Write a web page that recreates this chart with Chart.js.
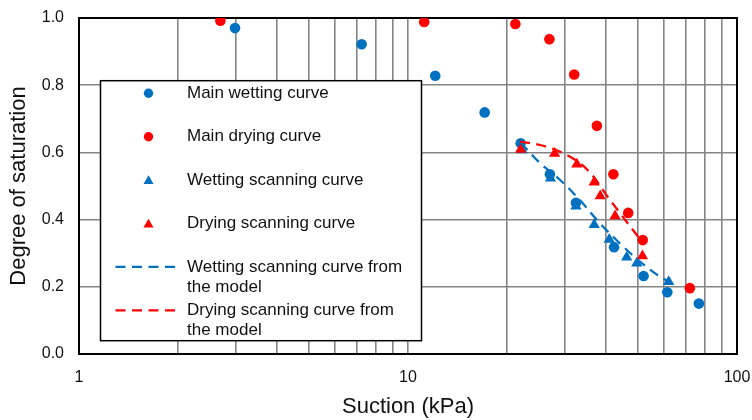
<!DOCTYPE html>
<html>
<head>
<meta charset="utf-8">
<script src="https://cdn.jsdelivr.net/npm/chart.js@4.4.1/dist/chart.umd.min.js"></script>
<style>
  html, body { margin: 0; padding: 0; background: #fff; }
  canvas { display: block; }
</style>
</head>
<body>
<canvas id="chart" width="752" height="420"></canvas>
<script>
// Suction (kPa) and degree of saturation for each measured series
const mainWettingSuction = [2.98, 7.23, 12.1, 17.1, 22.0, 27.0, 32.4, 42.3, 52.0, 61.4, 76.6];
const mainWettingSr      = [0.970, 0.922, 0.828, 0.719, 0.627, 0.535, 0.450, 0.318, 0.232, 0.184, 0.150];

const mainDryingSuction = [2.69, 11.2, 21.2, 26.9, 32.0, 37.5, 42.1, 46.7, 51.7, 71.9];
const mainDryingSr      = [0.992, 0.988, 0.982, 0.937, 0.832, 0.679, 0.535, 0.420, 0.339, 0.196];

const wettingScanSuction = [22.2, 27.1, 32.4, 36.8, 40.9, 46.2, 49.6, 62.0];
const wettingScanSr      = [0.607, 0.523, 0.440, 0.385, 0.341, 0.288, 0.270, 0.215];

const dryingScanSuction = [22.0, 27.9, 32.6, 36.8, 38.4, 42.6, 51.6];
const dryingScanSr      = [0.609, 0.597, 0.565, 0.511, 0.470, 0.411, 0.292];

// Model predictions for the scanning curves
const wettingModelSuction = [22.0, 25.2, 29.0, 33.3, 38.3, 44.1, 50.7, 58.3, 61.5];
const wettingModelSr      = [0.629, 0.568, 0.518, 0.458, 0.389, 0.329, 0.275, 0.230, 0.218];

const dryingModelSuction = [21.9, 25.2, 29.0, 33.3, 36.6, 40.1, 44.1, 49.6, 51.5];
const dryingModelSr      = [0.632, 0.622, 0.602, 0.568, 0.528, 0.473, 0.419, 0.354, 0.332];

// Axis ticks
const suctionGridTicks = [1, 2, 3, 4, 5, 6, 7, 8, 9, 10, 20, 30, 40, 50, 60, 70, 80, 90, 100];
const suctionLabelTicks = [1, 10, 100];
const saturationTicks = [0, 0.2, 0.4, 0.6, 0.8, 1.0];

const BLUE = '#0070C0';
const RED = '#FF0000';
const FONT = '"Liberation Sans", Arial, Helvetica, sans-serif';
const TEXT = '#111111';
const DASH = [10, 6.5];

const toPoints = (xs, ys) => xs.map((x, i) => ({ x, y: ys[i] }));

function markerSet(label, xs, ys, color, style, radius, order) {
  return {
    label,
    data: toPoints(xs, ys),
    pointStyle: style,
    pointRadius: radius,
    pointHoverRadius: radius,
    pointBorderWidth: 0,
    backgroundColor: color,
    borderColor: color,
    showLine: false,
    order
  };
}

function modelSet(label, xs, ys, color, order) {
  return {
    label,
    data: toPoints(xs, ys),
    showLine: true,
    pointRadius: 0,
    pointHoverRadius: 0,
    borderColor: color,
    backgroundColor: color,
    borderWidth: 2.25,
    borderDash: DASH,
    tension: 0.35,
    fill: false,
    order
  };
}

const datasets = [
  markerSet('Main wetting curve', mainWettingSuction, mainWettingSr, BLUE, 'circle', 5.3, 6),
  markerSet('Main drying curve', mainDryingSuction, mainDryingSr, RED, 'circle', 5.3, 5),
  markerSet('Wetting scanning curve', wettingScanSuction, wettingScanSr, BLUE, 'triangle', 6.5, 4),
  markerSet('Drying scanning curve', dryingScanSuction, dryingScanSr, RED, 'triangle', 6.5, 3),
  modelSet('Wetting scanning curve from the model', wettingModelSuction, wettingModelSr, BLUE, 2),
  modelSet('Drying scanning curve from the model', dryingModelSuction, dryingModelSr, RED, 1)
];

// Black frame around the plotting area
const framePlugin = {
  id: 'plotFrame',
  beforeDatasetsDraw(chart) {
    const { ctx, chartArea: a } = chart;
    ctx.save();
    ctx.strokeStyle = '#000';
    ctx.lineWidth = 2;
    ctx.strokeRect(a.left, a.top, a.right - a.left, a.bottom - a.top);
    ctx.restore();
  }
};

function drawMarker(ctx, style, x, y, r) {
  ctx.beginPath();
  if (style === 'triangle') {
    let rad = 0;
    ctx.moveTo(x + Math.sin(rad) * r, y - Math.cos(rad) * r);
    rad += Math.PI * 2 / 3;
    ctx.lineTo(x + Math.sin(rad) * r, y - Math.cos(rad) * r);
    rad += Math.PI * 2 / 3;
    ctx.lineTo(x + Math.sin(rad) * r, y - Math.cos(rad) * r);
    ctx.closePath();
  } else {
    ctx.arc(x, y, r, 0, Math.PI * 2);
  }
  ctx.fill();
}

function wrapText(ctx, text, maxWidth) {
  const words = text.split(' ');
  const lines = [];
  let line = '';
  for (const w of words) {
    const test = line ? line + ' ' + w : w;
    if (ctx.measureText(test).width > maxWidth && line) {
      lines.push(line);
      line = w;
    } else {
      line = test;
    }
  }
  if (line) lines.push(line);
  return lines;
}

// Boxed legend placed inside the plotting area
const boxLegendPlugin = {
  id: 'boxLegend',
  afterDraw(chart) {
    const { ctx, chartArea: a } = chart;
    const left = a.left + 21.5;
    const top = a.top + 62.7;
    const width = 321;
    const height = 260;
    ctx.save();
    ctx.fillStyle = '#fff';
    ctx.fillRect(left, top, width, height);
    ctx.strokeStyle = '#000';
    ctx.lineWidth = 1.5;
    ctx.strokeRect(left, top, width, height);

    ctx.font = '17px ' + FONT;
    ctx.textBaseline = 'middle';
    ctx.textAlign = 'left';
    const textX = left + 86.5;
    const markerX = left + 48;
    const rowStep = 43.4;
    const lineStep = 20;
    chart.data.datasets.forEach((ds, i) => {
      const y = top + 12.6 + i * rowStep;
      ctx.fillStyle = ds.borderColor;
      ctx.strokeStyle = ds.borderColor;
      if (ds.showLine) {
        ctx.save();
        ctx.lineWidth = 2.25;
        ctx.setLineDash(DASH);
        ctx.beginPath();
        ctx.moveTo(left + 15, y);
        ctx.lineTo(left + 75, y);
        ctx.stroke();
        ctx.restore();
      } else {
        drawMarker(ctx, ds.pointStyle, markerX, ds.pointStyle === 'triangle' ? y + 1 : y,
          ds.pointStyle === 'triangle' ? 5.8 : 4.7);
      }
      ctx.fillStyle = TEXT;
      wrapText(ctx, ds.label, width - 86.5 - 6).forEach((ln, k) => {
        ctx.fillText(ln, textX, y + k * lineStep);
      });
    });
    ctx.restore();
  }
};

Chart.defaults.font.family = FONT;
Chart.defaults.color = TEXT;

const gridStyle = { color: '#858585', lineWidth: 1.6, drawTicks: false };

// Fixed axis box sizes; tick labels may overhang the plot edges
function fixBox(scale, size) {
  if (scale.isHorizontal()) scale.height = size; else scale.width = size;
  scale.paddingLeft = 0;
  scale.paddingRight = 0;
  scale.paddingTop = 0;
  scale.paddingBottom = 0;
}

new Chart(document.getElementById('chart'), {
  type: 'scatter',
  data: { datasets },
  options: {
    responsive: false,
    devicePixelRatio: 1,
    animation: false,
    layout: { autoPadding: false, padding: { top: 18, right: 15, left: 0, bottom: 0 } },
    plugins: {
      legend: { display: false },
      tooltip: { enabled: false }
    },
    scales: {
      x: {
        type: 'logarithmic',
        min: 1,
        max: 100,
        afterFit(scale) { fixBox(scale, 66); },
        afterBuildTicks(scale) { scale.ticks = suctionGridTicks.map(v => ({ value: v })); },
        grid: gridStyle,
        border: { display: false },
        ticks: {
          autoSkip: false,
          maxRotation: 0,
          padding: 14,
          color: TEXT,
          font: { size: 16 },
          callback: (v) => suctionLabelTicks.includes(v) ? String(v) : ''
        },
        title: {
          display: true,
          text: 'Suction (kPa)',
          color: TEXT,
          font: { size: 22 },
          padding: { top: 0, bottom: 0 }
        }
      },
      y: {
        min: 0,
        max: 1,
        afterFit(scale) { fixBox(scale, 79); },
        afterBuildTicks(scale) { scale.ticks = saturationTicks.map(v => ({ value: v })); },
        grid: gridStyle,
        border: { display: false },
        ticks: {
          padding: 15,
          color: TEXT,
          font: { size: 16 },
          callback: (v) => Number(v).toFixed(1)
        },
        title: {
          display: true,
          text: 'Degree of saturation',
          color: TEXT,
          font: { size: 22 },
          padding: { top: 6, bottom: 0 }
        }
      }
    }
  },
  plugins: [framePlugin, boxLegendPlugin]
});
</script>
</body>
</html>
